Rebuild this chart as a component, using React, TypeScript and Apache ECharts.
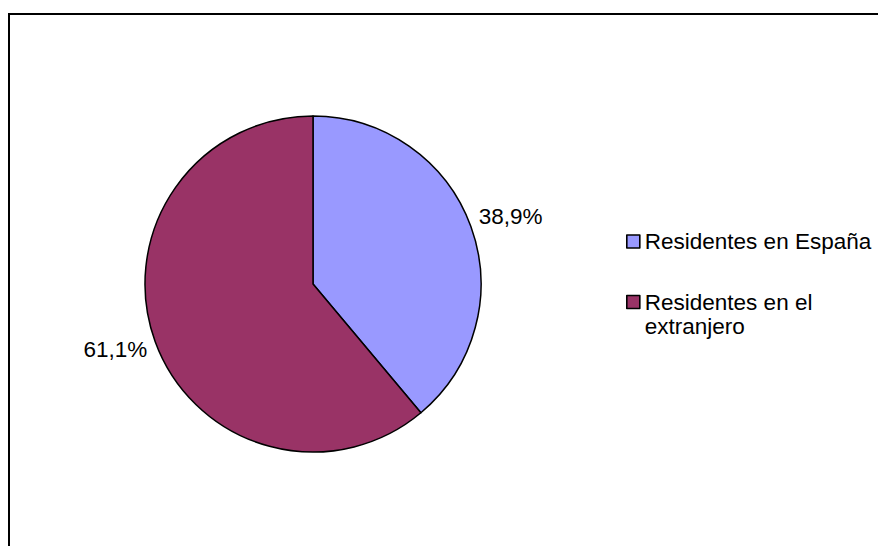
import React, { useEffect, useRef } from "react";
import * as echarts from "echarts";

const categories = ["Residentes en España", "Residentes en el extranjero"];
const legendLabels = ["Residentes en España", "\u00a0\nResidentes en el\nextranjero"];
const values = [38.9, 61.1];
const colors = ["#9999FF", "#993366"];

export default function App() {
  const ref = useRef<HTMLDivElement>(null);
  useEffect(() => {
    const chart = echarts.init(ref.current!, null, { renderer: "svg" });
    const font = "Arial, 'Liberation Sans', sans-serif";
    const legendText = { fontSize: 22.5, color: "#000", fontFamily: font };
    const labelShift = [-9, 7];
    chart.setOption({
      animation: false,
      backgroundColor: "#fff",
      textStyle: { fontFamily: font },
      graphic: [
        {
          type: "rect",
          silent: true,
          shape: { x: 9, y: 14, width: 900, height: 600 },
          style: { fill: "none", stroke: "#000", lineWidth: 2 },
        },
      ],
      legend: [
        {
          data: [categories[0]],
          orient: "vertical",
          left: 621,
          top: 225,
          icon: "rect",
          itemWidth: 13,
          itemHeight: 13,
          itemStyle: { borderColor: "#000", borderWidth: 1.6 },
          textStyle: legendText,
          formatter: () => legendLabels[0],
        },
        {
          data: [categories[1]],
          orient: "vertical",
          left: 621,
          top: 261,
          icon: "rect",
          itemWidth: 13,
          itemHeight: 13,
          itemStyle: { borderColor: "#000", borderWidth: 1.6 },
          textStyle: { ...legendText, lineHeight: 24 },
          formatter: () => legendLabels[1],
        },
      ],
      series: [
        {
          type: "pie",
          center: [313, 284],
          radius: 168,
          startAngle: 90,
          clockwise: true,
          data: categories.map((name, i) => ({
            name,
            value: values[i],
            itemStyle: { color: colors[i] },
          })),
          itemStyle: { borderColor: "#000", borderWidth: 1.5 },
          label: {
            show: true,
            position: "outside",
            fontSize: 22.5,
            color: "#000",
            fontFamily: font,
            formatter: (p: any) => p.value.toFixed(1).replace(".", ",") + "%",
          },
          labelLine: { show: false, length: 3, length2: 0 },
          labelLayout: (p: any) => ({ dy: labelShift[p.dataIndex] }),
          emphasis: { disabled: true },
        },
      ],
    });
    return () => chart.dispose();
  }, []);
  return (
    <div
      ref={ref}
      style={{ position: "absolute", left: 0, top: 0, width: 878, height: 546 }}
    />
  );
}
